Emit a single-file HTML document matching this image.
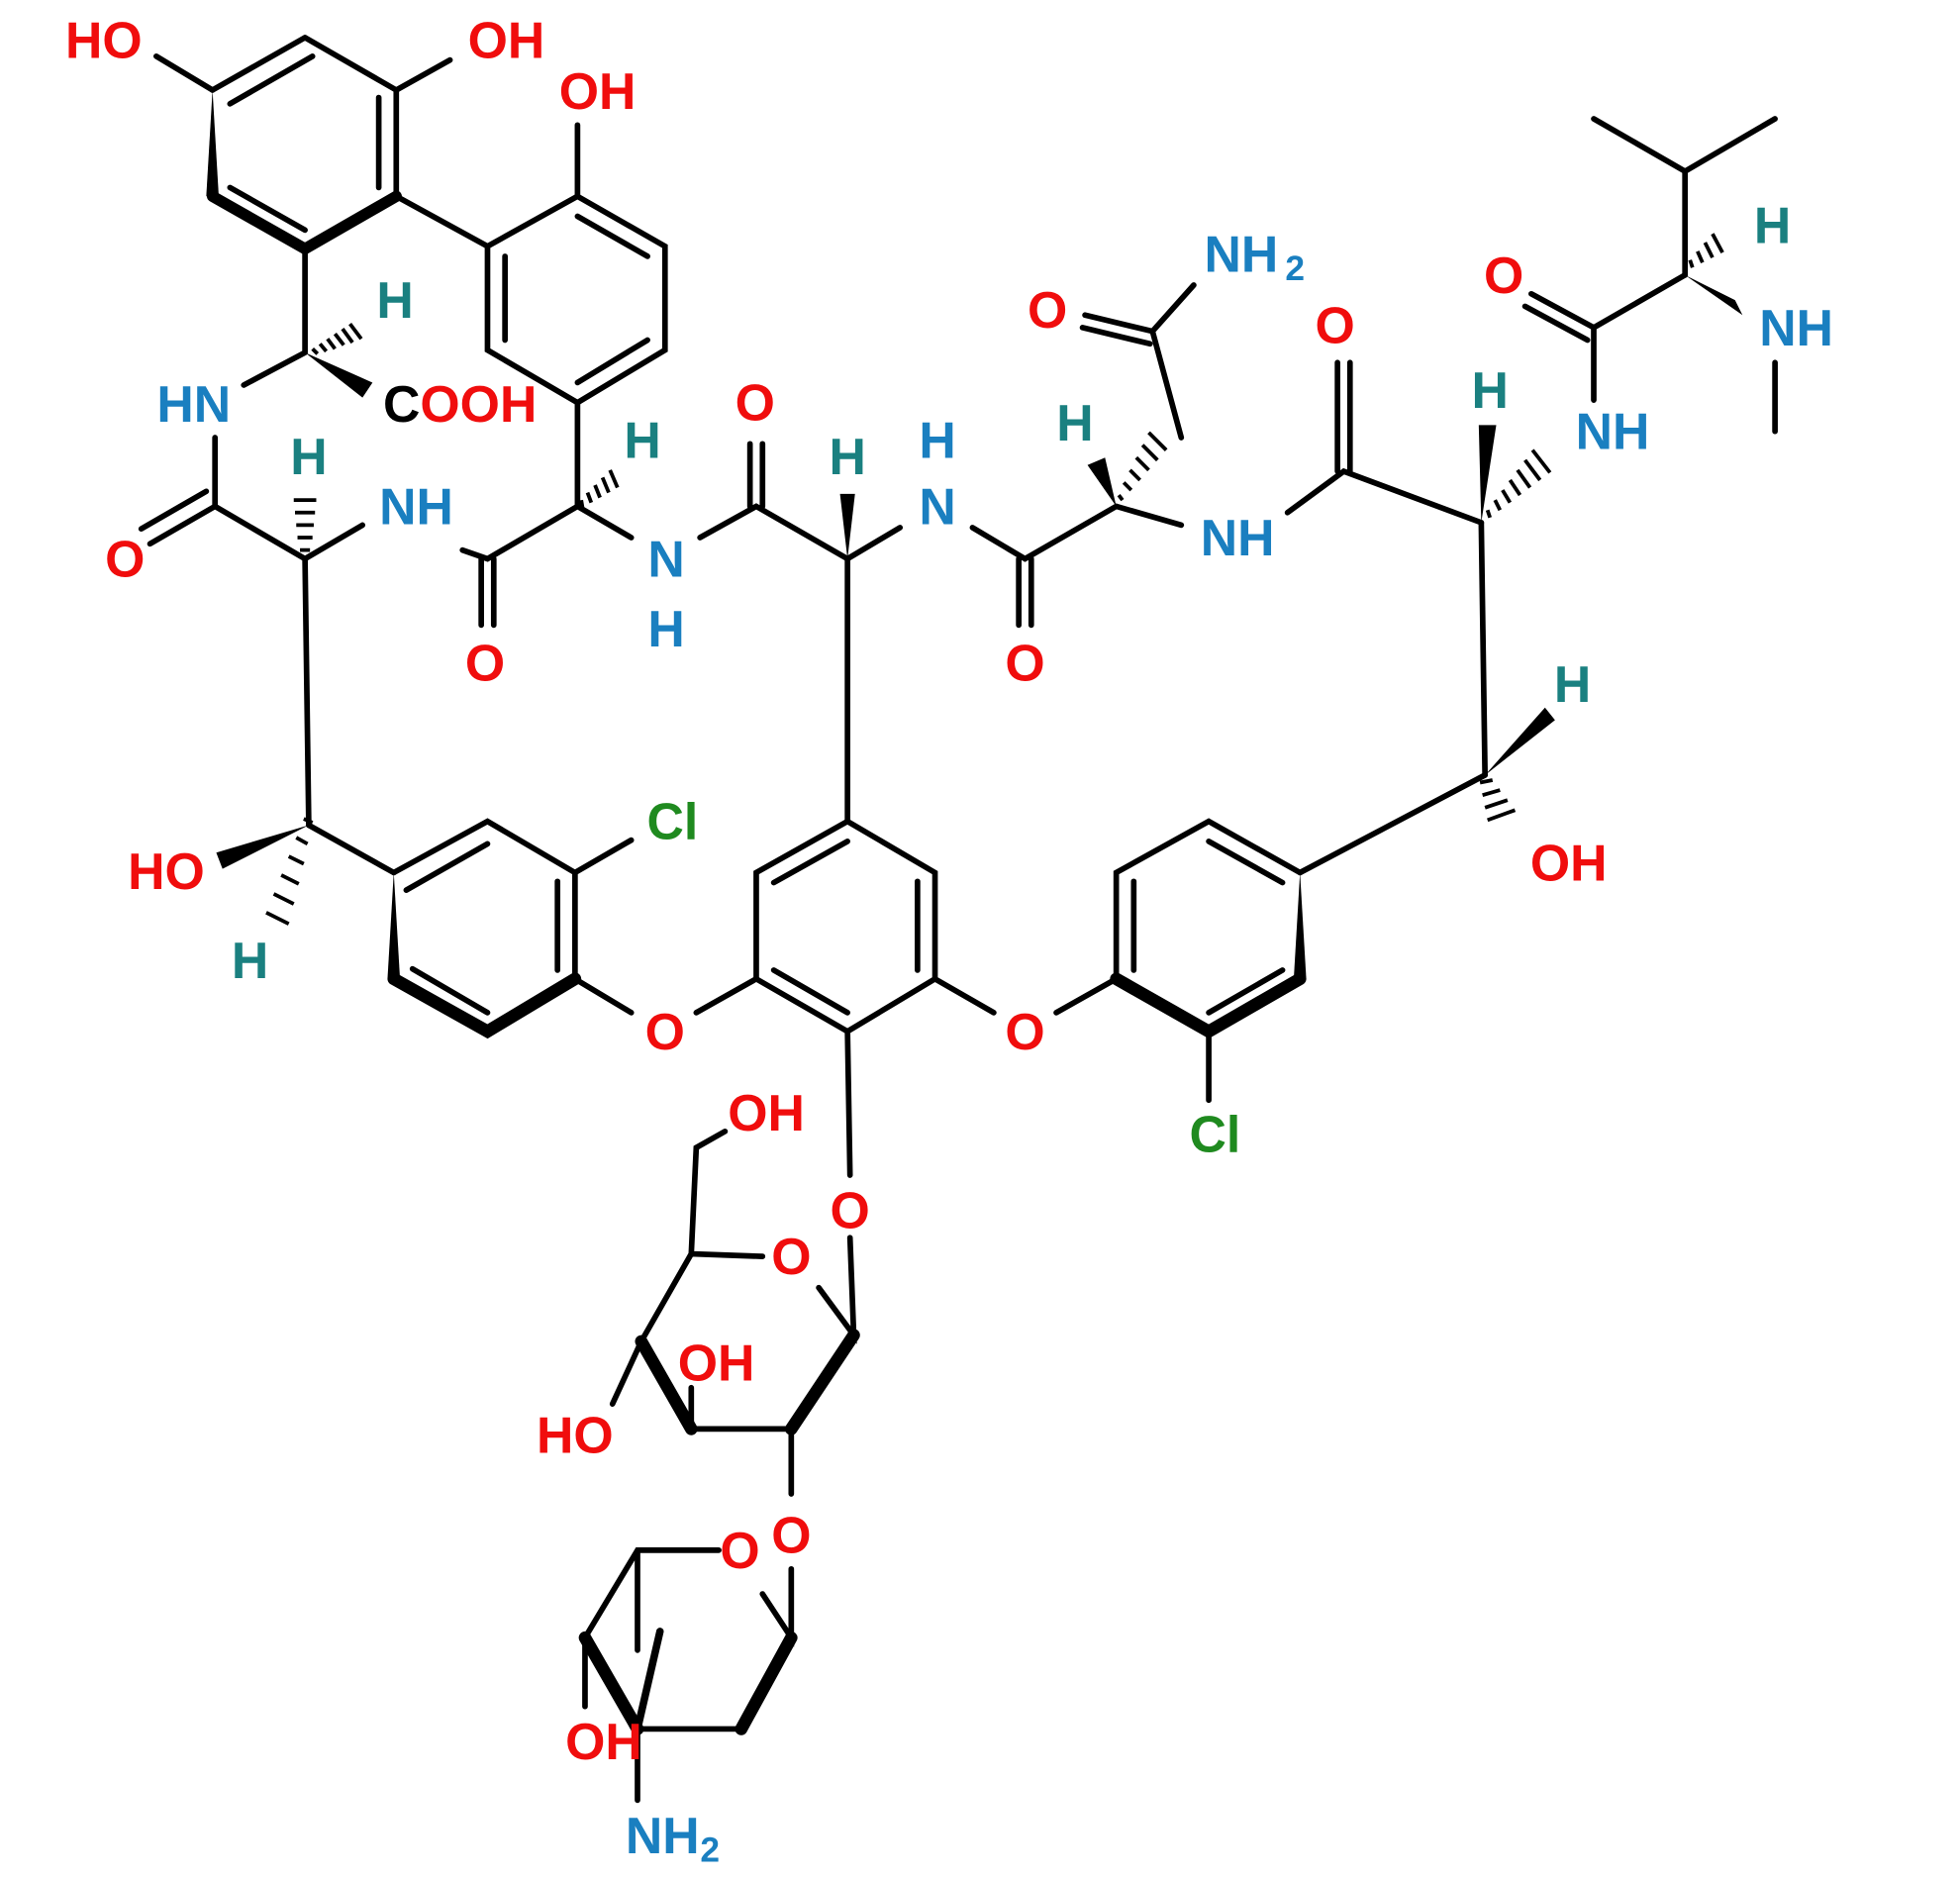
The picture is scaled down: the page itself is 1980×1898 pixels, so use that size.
<!DOCTYPE html>
<html><head><meta charset="utf-8"><style>
html,body{margin:0;padding:0;background:#fff}
svg{display:block}
text{font-family:"Liberation Sans",Arial,sans-serif;font-weight:bold;font-size:41px;text-anchor:middle;dominant-baseline:central}
.o{fill:#f00d0d}.n{fill:#1a7fc0}.h{fill:#1a8080}.cl{fill:#1f8a1f}.c{fill:#000}
</style></head><body>
<svg width="1980" height="1898" viewBox="0 0 1568 1503" xmlns="http://www.w3.org/2000/svg">
<g stroke="#000" stroke-width="4.5" fill="none" stroke-linecap="round">
<path d="M244,30 L317,72 L317,157 M244,30 L170,72"/>
<path d="M250,45 L184,83 M303,78 L303,150"/>
<path d="M170,72 L125,45 M317,72 L360,48"/>
<path d="M170,157 L244,199 L317,157" stroke-width="9"/>
<path d="M184,150 L244,184"/>
<path d="M317,157 L390,197"/>
<path d="M244,199 L244,282 M244,282 L195,308 M172,350 L172,405"/>
<path d="M172,405 L120,435 M165,393 L113,423"/>
<path d="M172,405 L244,447 L290,420 M244,447 L247,660"/>
<path d="M247,660 L315,698"/>
<!-- ring A -->
<path d="M315,698 L390,657 L460,698 L460,783"/>
<path d="M315,783 L390,825 L460,783" stroke-width="10"/>
<path d="M325,712 L390,675 M446,705 L446,776 M330,775 L390,810"/>
<path d="M460,698 L505,672 M460,783 L505,810 M557,810 L605,783"/>
<path d="M370,440 L390,447 L462,405 M385,447 L385,500 M395,447 L395,500"/>
<path d="M462,405 L505,430 M462,405 L462,322 M560,430 L605,405 L678,447 L720,422 M600,405 L600,355 M610,405 L610,355"/>
<path d="M462,157 L532,197 L532,280 L462,322 L390,280 L390,197 Z"/>
<path d="M462,173 L518,205 M404,205 L404,272 M462,306 L518,272 M462,157 L462,100"/>
<path d="M678,447 L678,657"/>
<path d="M678,657 L748,698 L748,783 L678,825 L605,783 L605,698 Z"/>
<path d="M678,673 L619,706 M734,705 L734,776 M619,776 L678,810"/>
<path d="M678,825 L680,940 M748,783 L795,810 M845,810 L893,783"/>
<!-- ring D -->
<path d="M893,783 L893,698 L967,657 L1040,698"/>
<path d="M893,783 L967,825 L1040,783" stroke-width="10"/>
<path d="M907,705 L907,776 M967,673 L1026,706 M967,810 L1026,776"/>
<path d="M967,825 L967,880 M1040,698 L1188,620"/>
<path d="M778,422 L820,447 L893,405 M815,447 L815,500 M825,447 L825,500"/>
<path d="M945,350 L922,265 L955,228 M922,265 L868,252 M920,275 L866,262"/>
<path d="M893,405 L945,420 M1030,410 L1075,377 L1185,418 M1070,377 L1070,290 M1080,377 L1080,290"/>
<path d="M1185,418 L1188,620"/>
<path d="M1275,320 L1275,262 L1348,220 M1275,262 L1225,235 M1270,272 L1220,245"/>
<path d="M1348,220 L1348,137 L1275,95 M1348,137 L1420,95 M1420,290 L1420,345"/>
<path d="M680,990 L683,1068 L655,1030 M610,1005 L553,1003 L513,1073 M553,1003 L557,918 L580,905 M513,1073 L490,1123 M553,1143 L633,1143 M633,1143 L633,1195 M553,1110 L553,1143"/>
<path d="M683,1068 L633,1143" stroke-width="10"/>
<path d="M513,1073 L553,1143" stroke-width="10"/>
<path d="M633,1255 L633,1310 L610,1275 M575,1240 L510,1240 L468,1310 L468,1365 M510,1383 L593,1383 M510,1383 L510,1440 M510,1240 L510,1320"/>
<path d="M468,1310 L510,1383" stroke-width="10"/>
<path d="M593,1383 L633,1310" stroke-width="10"/>
<path d="M528,1305 L510,1383" stroke-width="6"/>
</g>
<g fill="#000">
<polygon points="244,282 290,318 298,306"/>
<polygon points="247,660 173,682 178,695"/>
<polygon points="678,447 672,395 684,395"/>
<polygon points="893,405 870,372 884,366"/>
<polygon points="1185,418 1183,340 1197,340"/>
<polygon points="1188,620 1236,566 1244,576"/>
<polygon points="1348,220 1388,240 1394,252"/>
<polygon points="170,72 165,157 175,157"/>
<polygon points="315,698 310,783 320,783"/>
<polygon points="1040,698 1035,783 1045,783"/>
</g>
<g stroke="#000" stroke-width="3">
<path d="M250,279 L254,283 M256,275 L261,281 M262,271 L268,279 M268,267 L275,276 M274,263 L282,274 M280,259 L289,271"/>
<path d="M243,655 L250,658 M237,670 L246,675 M231,685 L243,691 M225,700 L239,707 M219,715 L235,723 M213,730 L231,739"/>
<path d="M465,400 L466,406 M470,394 L473,402 M476,388 L480,398 M482,382 L487,394 M488,376 L494,390"/>
<path d="M240,440 L248,440 M238,430 L250,430 M237,420 L251,420 M236,410 L252,410 M235,400 L253,400"/>
<path d="M898,400 L895,396 M905,392 L899,386 M912,384 L904,376 M919,376 L909,366 M926,368 L914,356 M933,360 L919,346"/>
<path d="M1192,414 L1190,408 M1200,408 L1196,400 M1208,402 L1202,392 M1216,396 L1208,384 M1224,390 L1214,376 M1232,384 L1220,368 M1240,378 L1226,360"/>
<path d="M1184,626 L1194,624 M1186,636 L1200,632 M1188,646 L1206,640 M1190,656 L1212,648"/>
<path d="M1354,214 L1352,208 M1362,210 L1358,201 M1370,206 L1364,194 M1378,202 L1370,187"/>
</g>
<text x="83" y="32" class="o">HO</text>
<text x="405" y="32" class="o">OH</text>
<text x="478" y="73" class="o">OH</text>
<text x="316" y="240" class="h">H</text>
<text x="368" y="323"><tspan class="c">C</tspan><tspan class="o">OOH</tspan></text>
<text x="155" y="323" class="n">HN</text>
<text x="100" y="447" class="o">O</text>
<text x="247" y="365" class="h">H</text>
<text x="333" y="405" class="n">NH</text>
<text x="133" y="697" class="o">HO</text>
<text x="200" y="768" class="h">H</text>
<text x="538" y="657" class="cl">Cl</text>
<text x="532" y="825" class="o">O</text>
<text x="388" y="530" class="o">O</text>
<text x="514" y="352" class="h">H</text>
<text x="533" y="447" class="n">N</text>
<text x="533" y="503" class="n">H</text>
<text x="604" y="322" class="o">O</text>
<text x="678" y="365" class="h">H</text>
<text x="750" y="352" class="n">H</text>
<text x="750" y="405" class="n">N</text>
<text x="820" y="530" class="o">O</text>
<text x="860" y="338" class="h">H</text>
<text x="838" y="248" class="o">O</text>
<text x="993" y="203" class="n">NH</text>
<text x="1036" y="215" class="n" style="font-size:28px">2</text>
<text x="990" y="430" class="n">NH</text>
<text x="1068" y="260" class="o">O</text>
<text x="1192" y="312" class="h">H</text>
<text x="1290" y="345" class="n">NH</text>
<text x="1258" y="547" class="h">H</text>
<text x="1255" y="690" class="o">OH</text>
<text x="820" y="825" class="o">O</text>
<text x="972" y="907" class="cl">Cl</text>
<text x="1203" y="220" class="o">O</text>
<text x="1418" y="180" class="h">H</text>
<text x="1437" y="262" class="n">NH</text>
<text x="680" y="968" class="o">O</text>
<text x="613" y="890" class="o">OH</text>
<text x="633" y="1005" class="o">O</text>
<text x="573" y="1090" class="o">OH</text>
<text x="460" y="1148" class="o">HO</text>
<text x="633" y="1228" class="o">O</text>
<text x="592" y="1240" class="o">O</text>
<text x="483" y="1393" class="o">OH</text>
<text x="530" y="1468" class="n">NH</text>
<text x="568" y="1480" class="n" style="font-size:28px">2</text>
</svg>
</body></html>
